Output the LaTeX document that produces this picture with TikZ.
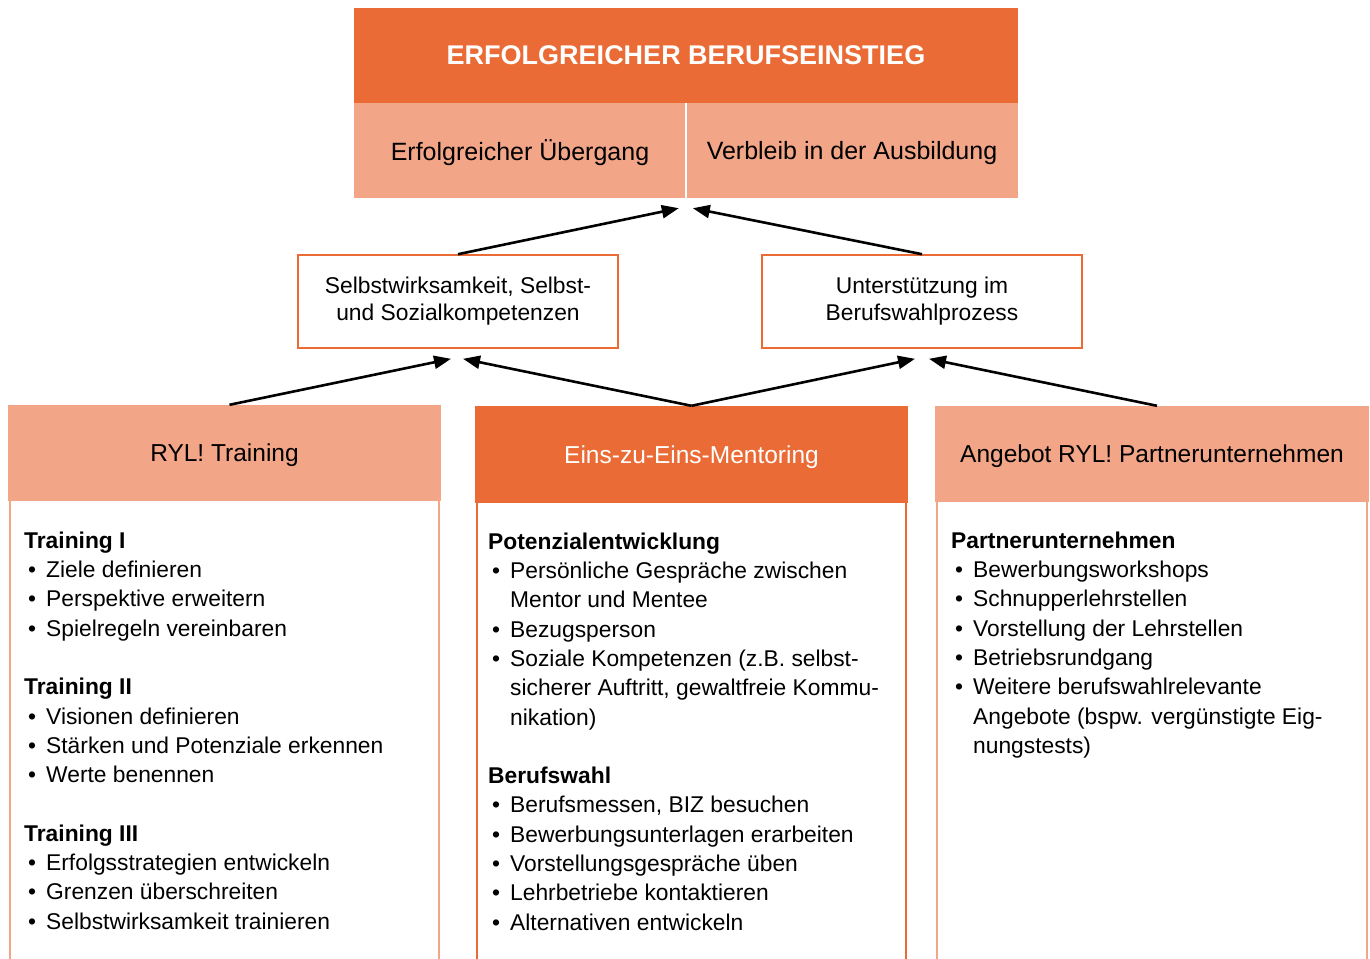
\documentclass[tikz,border=0pt]{standalone}
\usepackage{fontspec}
\setmainfont{Liberation Sans}
\usetikzlibrary{arrows.meta, positioning}
\usepackage{xcolor}
\definecolor{ryldark}{HTML}{EA6B35}
\definecolor{rylight}{HTML}{F2A587}
\newcommand{\itm}[1]{\hspace*{4pt}\makebox[18pt][l]{\textbullet}#1}
\newcommand{\cont}[1]{\hspace*{22pt}#1}

\begin{document}
\begin{tikzpicture}[x=1pt,y=-1pt,>={Triangle[length=17pt,width=13pt]}]
    \tikzstyle{darkbox}=[shape=rectangle,fill=ryldark,text=white,inner sep=0pt,text depth=0pt]
    \tikzstyle{lightbox}=[shape=rectangle,fill=rylight,text=black,inner sep=0pt,text depth=0pt]
    \tikzstyle{aimbox}=[shape=rectangle,draw=ryldark,line width=1.6pt,fill=white,align=center,
        minimum width=320pt,minimum height=93pt,font=\fontsize{22.8}{27}\selectfont]
    \tikzstyle{colhead}=[minimum width=433pt,minimum height=96pt,font=\fontsize{24.5}{29}\selectfont]
    \tikzstyle{listtext}=[anchor=north west,inner sep=0pt,align=left,font=\fontsize{22.8}{29.3}\selectfont]
    \tikzstyle{sideline}=[line width=2pt]

    \useasboundingbox (0,0) rectangle (1370,958);
    \coordinate (bottom) at (0,962);

    % goal
    \node[darkbox, minimum width=664pt, minimum height=95pt, font=\bfseries\fontsize{27}{31}\selectfont] (goal) at (686,55.5) {ERFOLGREICHER BERUFSEINSTIEG};
    \node[lightbox, minimum width=332pt, minimum height=95pt, font=\fontsize{25}{30}\selectfont] (trans) at (520,150.5) {Erfolgreicher Übergang};
    \node[lightbox, minimum width=332pt, minimum height=95pt, font=\fontsize{25}{30}\selectfont] (stay) at (852,150.5) {Verbleib in der Ausbildung};
    \draw[white, line width=2.5pt] (trans.north east) -- (trans.south east);

    % outcomes
    \node[aimbox] (selbst) at (458,301.5) {Selbstwirksamkeit, Selbst-\\und Sozialkompetenzen};
    \node[aimbox] (unter) at (922,301.5) {Unterstützung im\\Berufswahlprozess};

    % columns
    \node[lightbox, colhead] (ryl) at (224.5,453) {RYL! Training};
    \node[darkbox, colhead, minimum height=97pt] (mentor) at (691.5,454.5) {Eins-zu-Eins-Mentoring};
    \node[lightbox, colhead, minimum width=434pt] (partner) at (1152,454) {Angebot RYL! Partnerunternehmen};

    \draw[sideline, rylight] ([xshift=2pt]ryl.south west) -- ([xshift=2pt]ryl.south west |- bottom);
    \draw[sideline, rylight] ([xshift=-2pt]ryl.south east) -- ([xshift=-2pt]ryl.south east |- bottom);
    \draw[sideline, ryldark] ([xshift=2pt]mentor.south west) -- ([xshift=2pt]mentor.south west |- bottom);
    \draw[sideline, ryldark] ([xshift=-2pt]mentor.south east) -- ([xshift=-2pt]mentor.south east |- bottom);
    \draw[sideline, rylight] ([xshift=2pt]partner.south west) -- ([xshift=2pt]partner.south west |- bottom);
    \draw[sideline, rylight] ([xshift=-2pt]partner.south east) -- ([xshift=-2pt]partner.south east |- bottom);

    \node[listtext] (rylist) at (24,531.5) {\textbf{Training I}\\
        \itm{Ziele definieren}\\
        \itm{Perspektive erweitern}\\
        \itm{Spielregeln vereinbaren}\\[29.3pt]
        \textbf{Training II}\\
        \itm{Visionen definieren}\\
        \itm{Stärken und Potenziale erkennen}\\
        \itm{Werte benennen}\\[29.3pt]
        \textbf{Training III}\\
        \itm{Erfolgsstrategien entwickeln}\\
        \itm{Grenzen überschreiten}\\
        \itm{Selbstwirksamkeit trainieren}};

    \node[listtext] (mentorlist) at (488,532.5) {\textbf{Potenzialentwicklung}\\
        \itm{Persönliche Gespräche zwischen}\\
        \cont{Mentor und Mentee}\\
        \itm{Bezugsperson}\\
        \itm{Soziale Kompetenzen (z.B. selbst-}\\
        \cont{sicherer Auftritt, gewaltfreie Kommu-}\\
        \cont{nikation)}\\[29.3pt]
        \textbf{Berufswahl}\\
        \itm{Berufsmessen, BIZ besuchen}\\
        \itm{Bewerbungsunterlagen erarbeiten}\\
        \itm{Vorstellungsgespräche üben}\\
        \itm{Lehrbetriebe kontaktieren}\\
        \itm{Alternativen entwickeln}};

    \node[listtext] (partnerlist) at (951,531.5) {\textbf{Partnerunternehmen}\\
        \itm{Bewerbungsworkshops}\\
        \itm{Schnupperlehrstellen}\\
        \itm{Vorstellung der Lehrstellen}\\
        \itm{Betriebsrundgang}\\
        \itm{Weitere berufswahlrelevante}\\
        \cont{Angebote (bspw. vergünstigte Eig-}\\
        \cont{nungstests)}};

    \path[->, line width=2.6pt]
    (selbst.north) edge ([xshift=-7pt,yshift=-10pt]stay.south west)
    (unter.north) edge ([xshift=7pt,yshift=-10pt]stay.south west)
    ([xshift=5pt]ryl.north) edge ([xshift=-7pt,yshift=-10pt]selbst.south)
    (mentor.north) edge ([xshift=5pt,yshift=-10pt]selbst.south)
    (mentor.north) edge ([xshift=-7pt,yshift=-10pt]unter.south)
    ([xshift=5pt]partner.north) edge ([xshift=7pt,yshift=-10pt]unter.south)
    ;
\end{tikzpicture}
\end{document}
